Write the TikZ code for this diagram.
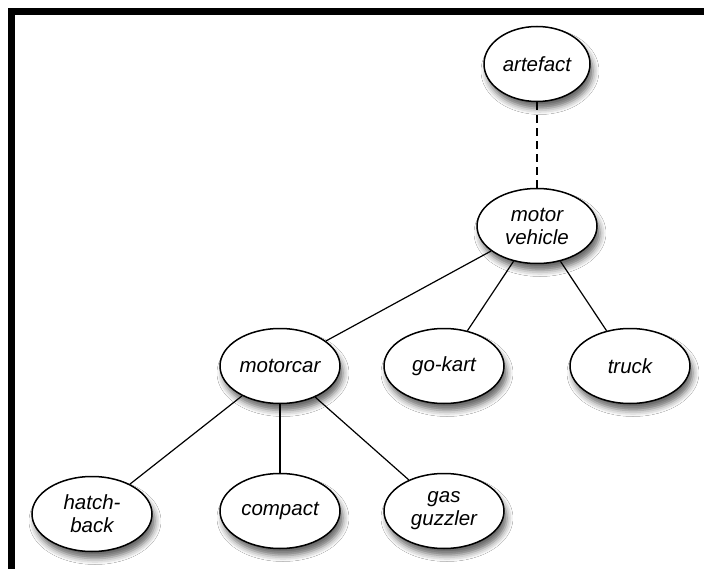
\documentclass[tikz,border=0pt]{standalone}
\usepackage{fontspec}
\newfontfamily\labelfont{Liberation Sans}
\usetikzlibrary{shapes.geometric,shadows.blur}
\tikzset{
	concept/.style={ellipse, draw=black, line width=1.5pt, fill=white, minimum width=120pt, minimum height=75pt, inner sep=0pt, align=center, font=\labelfont\itshape\fontsize{20.5}{23}\selectfont, blur shadow={shadow xshift=3pt, shadow yshift=-7pt, shadow blur radius=6pt, shadow opacity=60}},
	link/.style={line width=1.2pt},
}

\begin{document}
\begin{tikzpicture}[x=1pt, y=-1pt]
			%%%%% START %%%%%
			\useasboundingbox (0, 0) rectangle (704, 569);
			\fill[white] (0, 0) rectangle (704, 569);
			
			\fill[black] (8, 8) rectangle (704, 15);
			\fill[black] (8, 8) rectangle (15, 569);
			
			\node[concept, minimum width=106pt] (artefact) at (537, 64) {artefact};
			\node[concept] (vehicle) at (537, 226) {motor\\vehicle};
			
			\node[concept] (motorcar) at (280, 366) {motorcar};
			\node[concept] (gokart) at (444, 366) {go-kart};
			\node[concept] (truck) at (630, 366) {truck};
			
			\node[concept] (hatchback) at (92, 514) {hatch-\\back};
			\node[concept] (compact) at (280, 511) {compact};
			\node[concept] (guzzler) at (444, 511) {gas\\guzzler};
			
			\draw[link, dash pattern=on 8pt off 5pt] (artefact) -- (vehicle);
			\draw[link] (vehicle) -- (motorcar);
			\draw[link] (vehicle) -- (gokart);
			\draw[link] (vehicle) -- (truck);
			\draw[link] (motorcar) -- (hatchback);
			\draw[link] (motorcar) -- (compact);
			\draw[link] (motorcar) -- (guzzler);
			%%%%% END %%%%%
		\end{tikzpicture}
\end{document}
